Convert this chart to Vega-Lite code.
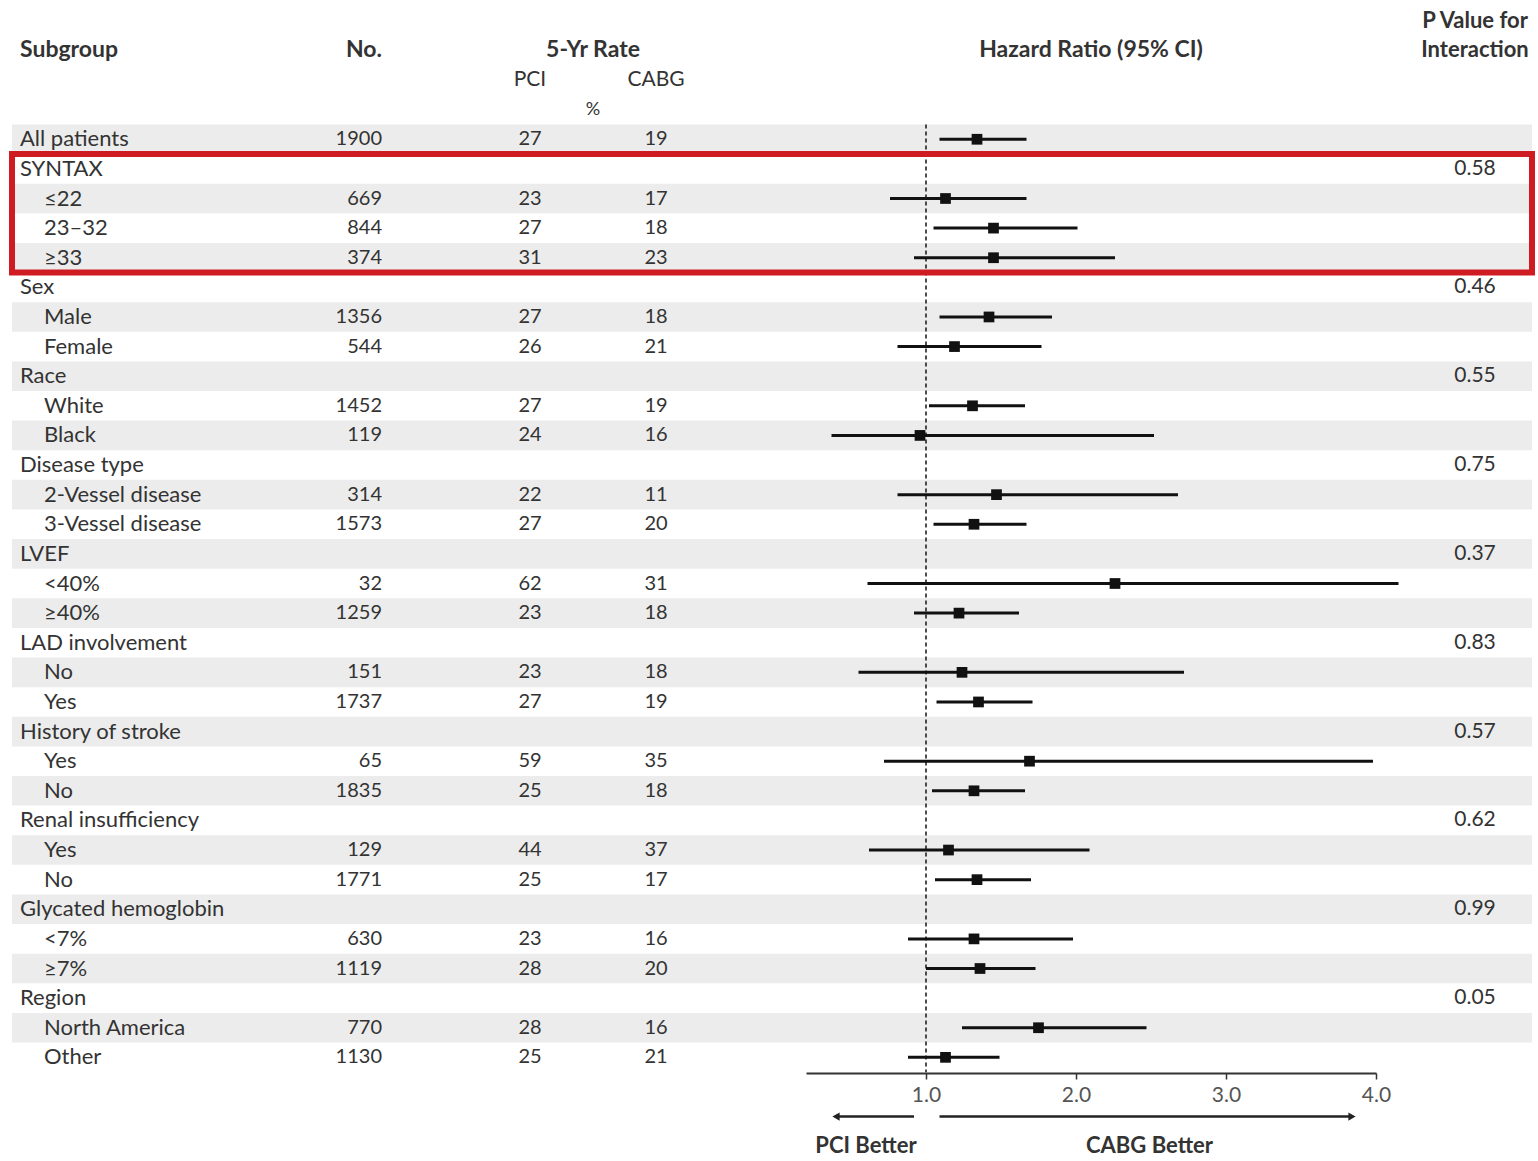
{
  "$schema": "https://vega.github.io/schema/vega-lite/v6.json",
  "width": 1538,
  "height": 1161,
  "padding": 0,
  "autosize": {"type": "none"},
  "background": "white",
  "config": {
    "view": {"stroke": null},
    "text": {"font": "Lato", "fontSize": 20, "color": "#333333", "baseline": "middle"}
  },
  "data": {
    "values": [
      {"row": 1, "label": "All patients", "level": "group", "n": 1900, "pci": 27, "cabg": 19, "hr": 1.34, "lo": 1.09, "hi": 1.67},
      {"row": 2, "label": "SYNTAX", "level": "group", "p": 0.58},
      {"row": 3, "label": "≤22", "level": "item", "n": 669, "pci": 23, "cabg": 17, "hr": 1.13, "lo": 0.76, "hi": 1.67},
      {"row": 4, "label": "23–32", "level": "item", "n": 844, "pci": 27, "cabg": 18, "hr": 1.45, "lo": 1.05, "hi": 2.01},
      {"row": 5, "label": "≥33", "level": "item", "n": 374, "pci": 31, "cabg": 23, "hr": 1.45, "lo": 0.92, "hi": 2.26},
      {"row": 6, "label": "Sex", "level": "group", "p": 0.46},
      {"row": 7, "label": "Male", "level": "item", "n": 1356, "pci": 27, "cabg": 18, "hr": 1.42, "lo": 1.09, "hi": 1.84},
      {"row": 8, "label": "Female", "level": "item", "n": 544, "pci": 26, "cabg": 21, "hr": 1.19, "lo": 0.81, "hi": 1.77},
      {"row": 9, "label": "Race", "level": "group", "p": 0.55},
      {"row": 10, "label": "White", "level": "item", "n": 1452, "pci": 27, "cabg": 19, "hr": 1.31, "lo": 1.02, "hi": 1.66},
      {"row": 11, "label": "Black", "level": "item", "n": 119, "pci": 24, "cabg": 16, "hr": 0.96, "lo": 0.37, "hi": 2.52},
      {"row": 12, "label": "Disease type", "level": "group", "p": 0.75},
      {"row": 13, "label": "2-Vessel disease", "level": "item", "n": 314, "pci": 22, "cabg": 11, "hr": 1.47, "lo": 0.81, "hi": 2.68},
      {"row": 14, "label": "3-Vessel disease", "level": "item", "n": 1573, "pci": 27, "cabg": 20, "hr": 1.32, "lo": 1.05, "hi": 1.67},
      {"row": 15, "label": "LVEF", "level": "group", "p": 0.37},
      {"row": 16, "label": "<40%", "level": "item", "n": 32, "pci": 62, "cabg": 31, "hr": 2.26, "lo": 0.61, "hi": 4.15},
      {"row": 17, "label": "≥40%", "level": "item", "n": 1259, "pci": 23, "cabg": 18, "hr": 1.22, "lo": 0.92, "hi": 1.62},
      {"row": 18, "label": "LAD involvement", "level": "group", "p": 0.83},
      {"row": 19, "label": "No", "level": "item", "n": 151, "pci": 23, "cabg": 18, "hr": 1.24, "lo": 0.55, "hi": 2.72},
      {"row": 20, "label": "Yes", "level": "item", "n": 1737, "pci": 27, "cabg": 19, "hr": 1.35, "lo": 1.07, "hi": 1.71},
      {"row": 21, "label": "History of stroke", "level": "group", "p": 0.57},
      {"row": 22, "label": "Yes", "level": "item", "n": 65, "pci": 59, "cabg": 35, "hr": 1.69, "lo": 0.72, "hi": 3.98},
      {"row": 23, "label": "No", "level": "item", "n": 1835, "pci": 25, "cabg": 18, "hr": 1.32, "lo": 1.04, "hi": 1.66},
      {"row": 24, "label": "Renal insufficiency", "level": "group", "p": 0.62},
      {"row": 25, "label": "Yes", "level": "item", "n": 129, "pci": 44, "cabg": 37, "hr": 1.15, "lo": 0.62, "hi": 2.09},
      {"row": 26, "label": "No", "level": "item", "n": 1771, "pci": 25, "cabg": 17, "hr": 1.34, "lo": 1.06, "hi": 1.7},
      {"row": 27, "label": "Glycated hemoglobin", "level": "group", "p": 0.99},
      {"row": 28, "label": "<7%", "level": "item", "n": 630, "pci": 23, "cabg": 16, "hr": 1.32, "lo": 0.88, "hi": 1.98},
      {"row": 29, "label": "≥7%", "level": "item", "n": 1119, "pci": 28, "cabg": 20, "hr": 1.36, "lo": 1.0, "hi": 1.73},
      {"row": 30, "label": "Region", "level": "group", "p": 0.05},
      {"row": 31, "label": "North America", "level": "item", "n": 770, "pci": 28, "cabg": 16, "hr": 1.75, "lo": 1.24, "hi": 2.47},
      {"row": 32, "label": "Other", "level": "item", "n": 1130, "pci": 25, "cabg": 21, "hr": 1.13, "lo": 0.88, "hi": 1.49}
    ]
  },
  "resolve": {"scale": {"x": "independent"}, "axis": {"x": "independent"}},
  "layer": [
    {
      "transform": [{"filter": "datum.row % 2 == 1"}],
      "mark": {"type": "rect", "color": "#ececec"},
      "encoding": {
        "x": {"datum": 0, "type": "quantitative", "scale": {"domain": [0, 1], "range": [12, 1532]}, "axis": null},
        "x2": {"datum": 1},
        "y": {
          "field": "row",
          "type": "ordinal",
          "scale": {
            "type": "band",
            "domain": [-3, -2, -1, 0, 1, 2, 3, 4, 5, 6, 7, 8, 9, 10, 11, 12, 13, 14, 15, 16, 17, 18, 19, 20, 21, 22, 23, 24, 25, 26, 27, 28, 29, 30, 31, 32, 33, 34, 35],
            "range": [6, 1161],
            "paddingInner": 0,
            "paddingOuter": 0
          },
          "axis": null
        }
      }
    },
    {
      "layer": [
        {
          "mark": {"type": "text", "align": "left", "fontSize": 22},
          "encoding": {
            "x": {"field": "level", "type": "nominal", "scale": {"type": "point", "domain": ["group", "item"], "range": [20, 44], "padding": 0}, "axis": null},
            "y": {"field": "row", "type": "ordinal"},
            "text": {"field": "label"}
          }
        },
        {
          "data": {"values": [{}]},
          "mark": {"type": "text", "align": "left", "fontWeight": "bold", "fontSize": 23},
          "encoding": {
            "x": {"datum": "group", "type": "nominal"},
            "y": {"datum": -2, "type": "ordinal"},
            "text": {"value": "Subgroup"}
          }
        }
      ]
    },
    {
      "layer": [
        {
          "transform": [{"filter": "isValid(datum.n)"}],
          "mark": {"type": "text", "align": "right"},
          "encoding": {
            "x": {"datum": "No.", "type": "nominal", "scale": {"type": "point", "domain": ["No."], "range": [382, 382], "padding": 0}, "axis": null},
            "y": {"field": "row", "type": "ordinal"},
            "text": {"field": "n", "type": "quantitative", "format": "d"}
          }
        },
        {
          "data": {"values": [{}]},
          "mark": {"type": "text", "align": "right", "fontWeight": "bold", "fontSize": 23},
          "encoding": {
            "x": {"datum": "No.", "type": "nominal"},
            "y": {"datum": -2, "type": "ordinal"},
            "text": {"value": "No."}
          }
        }
      ]
    },
    {
      "layer": [
        {
          "transform": [{"filter": "isValid(datum.pci)"}],
          "mark": {"type": "text", "align": "center"},
          "encoding": {
            "x": {"datum": "PCI", "type": "nominal", "scale": {"type": "point", "domain": ["PCI", "%", "CABG"], "range": [530, 656], "padding": 0}, "axis": null},
            "y": {"field": "row", "type": "ordinal"},
            "text": {"field": "pci", "type": "quantitative", "format": "d"}
          }
        },
        {
          "transform": [{"filter": "isValid(datum.cabg)"}],
          "mark": {"type": "text", "align": "center"},
          "encoding": {
            "x": {"datum": "CABG", "type": "nominal"},
            "y": {"field": "row", "type": "ordinal"},
            "text": {"field": "cabg", "type": "quantitative", "format": "d"}
          }
        },
        {
          "data": {"values": [{}]},
          "mark": {"type": "text", "align": "center", "fontWeight": "bold", "fontSize": 23},
          "encoding": {
            "x": {"datum": "%", "type": "nominal"},
            "y": {"datum": -2, "type": "ordinal"},
            "text": {"value": "5-Yr Rate"}
          }
        },
        {
          "data": {"values": [{}]},
          "mark": {"type": "text", "align": "center", "fontSize": 21},
          "encoding": {
            "x": {"datum": "PCI", "type": "nominal"},
            "y": {"datum": -1, "type": "ordinal"},
            "text": {"value": "PCI"}
          }
        },
        {
          "data": {"values": [{}]},
          "mark": {"type": "text", "align": "center", "fontSize": 21},
          "encoding": {
            "x": {"datum": "CABG", "type": "nominal"},
            "y": {"datum": -1, "type": "ordinal"},
            "text": {"value": "CABG"}
          }
        },
        {
          "data": {"values": [{}]},
          "mark": {"type": "text", "align": "center", "fontSize": 18},
          "encoding": {
            "x": {"datum": "%", "type": "nominal"},
            "y": {"datum": 0, "type": "ordinal"},
            "text": {"value": "%"}
          }
        }
      ]
    },
    {
      "layer": [
        {
          "data": {"values": [{}]},
          "mark": {"type": "rule", "color": "#222222", "strokeWidth": 1.6, "strokeDash": [4, 3]},
          "encoding": {
            "x": {"datum": 1, "type": "quantitative"},
            "y": {"datum": 1, "type": "ordinal", "bandPosition": 0},
            "y2": {"datum": 32, "bandPosition": 1}
          }
        },
        {
          "transform": [{"filter": "isValid(datum.hr)"}],
          "mark": {"type": "rule", "color": "#111111", "strokeWidth": 3},
          "encoding": {
            "x": {
              "field": "lo",
              "type": "quantitative",
              "scale": {"domain": [0.2, 4.0], "range": [806, 1376], "nice": false, "zero": false},
              "axis": {
                "orient": "bottom",
                "offset": -88,
                "values": [1, 2, 3, 4],
                "format": ".1f",
                "title": null,
                "grid": false,
                "domainColor": "#333333",
                "domainWidth": 2,
                "tickColor": "#333333",
                "tickWidth": 1.5,
                "tickSize": 6,
                "labelFont": "Lato",
                "labelFontSize": 21,
                "labelColor": "#555555",
                "labelPadding": 5,
                "labelFlush": false,
                "labelOverlap": false
              }
            },
            "x2": {"field": "hi"},
            "y": {"field": "row", "type": "ordinal"}
          }
        },
        {
          "transform": [{"filter": "isValid(datum.hr)"}],
          "mark": {"type": "point", "shape": "square", "filled": true, "size": 115, "color": "#111111", "opacity": 1},
          "encoding": {
            "x": {"field": "hr", "type": "quantitative"},
            "y": {"field": "row", "type": "ordinal"}
          }
        },
        {
          "data": {"values": [{}]},
          "mark": {"type": "text", "align": "center", "fontWeight": "bold", "fontSize": 23},
          "encoding": {
            "x": {"datum": 2.1, "type": "quantitative"},
            "y": {"datum": -2, "type": "ordinal"},
            "text": {"value": "Hazard Ratio (95% CI)"}
          }
        },
        {
          "data": {"values": [{}]},
          "mark": {"type": "rule", "color": "#222222", "strokeWidth": 2.5},
          "encoding": {
            "x": {"datum": 0.4, "type": "quantitative"},
            "x2": {"datum": 0.92},
            "y": {"datum": 34, "type": "ordinal"}
          }
        },
        {
          "data": {"values": [{}]},
          "mark": {"type": "rule", "color": "#222222", "strokeWidth": 2.5},
          "encoding": {
            "x": {"datum": 1.09, "type": "quantitative"},
            "x2": {"datum": 3.84},
            "y": {"datum": 34, "type": "ordinal"}
          }
        },
        {
          "data": {"values": [{}]},
          "mark": {"type": "point", "shape": "triangle-right", "filled": true, "size": 70, "color": "#222222", "opacity": 1},
          "encoding": {
            "x": {"datum": 3.84, "type": "quantitative"},
            "y": {"datum": 34, "type": "ordinal"}
          }
        },
        {
          "data": {"values": [{}]},
          "mark": {"type": "point", "shape": "triangle-left", "filled": true, "size": 70, "color": "#222222", "opacity": 1},
          "encoding": {
            "x": {"datum": 0.4, "type": "quantitative"},
            "y": {"datum": 34, "type": "ordinal"}
          }
        },
        {
          "data": {"values": [{}]},
          "mark": {"type": "text", "align": "center", "fontWeight": "bold", "fontSize": 22},
          "encoding": {
            "x": {"datum": 0.6, "type": "quantitative"},
            "y": {"datum": 35, "type": "ordinal"},
            "text": {"value": "PCI Better"}
          }
        },
        {
          "data": {"values": [{}]},
          "mark": {"type": "text", "align": "center", "fontWeight": "bold", "fontSize": 22},
          "encoding": {
            "x": {"datum": 2.49, "type": "quantitative"},
            "y": {"datum": 35, "type": "ordinal"},
            "text": {"value": "CABG Better"}
          }
        }
      ]
    },
    {
      "layer": [
        {
          "transform": [{"filter": "isValid(datum.p)"}],
          "mark": {"type": "text", "align": "center", "fontSize": 21},
          "encoding": {
            "x": {"datum": "P", "type": "nominal", "scale": {"type": "point", "domain": ["P"], "range": [1475, 1475], "padding": 0}, "axis": null},
            "y": {"field": "row", "type": "ordinal"},
            "text": {"field": "p", "type": "quantitative", "format": ".2f"}
          }
        },
        {
          "data": {"values": [{}]},
          "mark": {"type": "text", "align": "center", "fontWeight": "bold", "fontSize": 22},
          "encoding": {
            "x": {"datum": "P", "type": "nominal"},
            "y": {"datum": -3, "type": "ordinal"},
            "text": {"value": "P Value for"}
          }
        },
        {
          "data": {"values": [{}]},
          "mark": {"type": "text", "align": "center", "fontWeight": "bold", "fontSize": 22},
          "encoding": {
            "x": {"datum": "P", "type": "nominal"},
            "y": {"datum": -2, "type": "ordinal"},
            "text": {"value": "Interaction"}
          }
        }
      ]
    },
    {
      "data": {"values": [{}]},
      "mark": {"type": "rect", "filled": false, "stroke": "#cf1b22", "strokeWidth": 6},
      "encoding": {
        "x": {"datum": 0, "type": "quantitative", "scale": {"domain": [0, 1], "range": [12, 1532]}, "axis": null},
        "x2": {"datum": 1},
        "y": {"datum": 2, "type": "ordinal", "bandPosition": 0},
        "y2": {"datum": 5, "bandPosition": 1}
      }
    }
  ]
}
